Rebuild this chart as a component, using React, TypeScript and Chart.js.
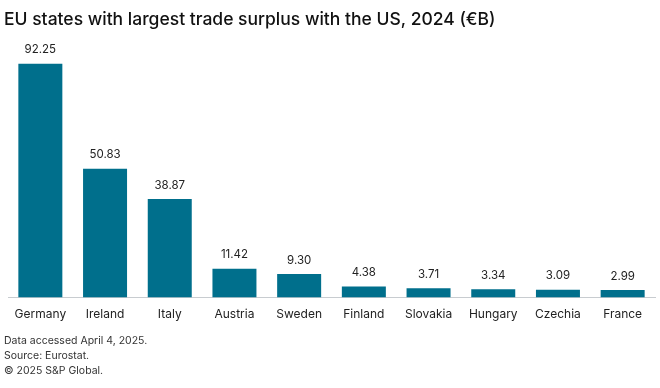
import React, { useEffect, useRef } from "react";
import { Chart, registerables } from "chart.js";

Chart.register(...registerables);

const categories = ["Germany", "Ireland", "Italy", "Austria", "Sweden", "Finland", "Slovakia", "Hungary", "Czechia", "France"];
const surplus = [92.25, 50.83, 38.87, 11.42, 9.3, 4.38, 3.71, 3.34, 3.09, 2.99];
const titleText = "EU states with largest trade surplus with the US, 2024 (€B)";
const footnotes = ["Data accessed April 4, 2025.", "Source: Eurostat.", "© 2025 S&P Global."];

const FONT = "Inter, 'Noto Sans', sans-serif";

const textPlugin = {
  id: "textPlugin",
  afterDraw(chart: any) {
    const ctx = chart.ctx;
    const meta = chart.getDatasetMeta(0);
    ctx.save();
    // value labels
    ctx.font = `400 11.5px ${FONT}`;
    ctx.fillStyle = "#222";
    ctx.textAlign = "center";
    ctx.textBaseline = "bottom";
    meta.data.forEach((bar: any, i: number) => {
      ctx.fillText(surplus[i].toFixed(2), bar.x, bar.y - 8);
    });
    // title
    ctx.textAlign = "left";
    ctx.textBaseline = "middle";
    ctx.font = `500 17.5px ${FONT}`;
    ctx.fillStyle = "#111";
    ctx.fillText(titleText, 4, 20);
    // footnotes
    ctx.font = `400 10.5px ${FONT}`;
    ctx.fillStyle = "#333";
    footnotes.forEach((t, i) => ctx.fillText(t, 4, 341 + i * 14.7));
    ctx.restore();
  },
};

export default function App() {
  const ref = useRef<HTMLCanvasElement>(null);
  useEffect(() => {
    document.body.style.margin = "0";
    const chart = new Chart(ref.current!, {
      type: "bar",
      data: {
        labels: categories,
        datasets: [
          {
            data: surplus,
            backgroundColor: "#006f8c",
            barPercentage: 0.68,
            categoryPercentage: 1,
          },
        ],
      },
      options: {
        animation: false,
        responsive: false,
        maintainAspectRatio: false,
        layout: { padding: { left: 8, right: 5, top: 44, bottom: 64 } },
        plugins: { legend: { display: false }, tooltip: { enabled: false }, title: { display: false } },
        scales: {
          y: { display: false, min: 0, max: 100 },
          x: {
            grid: { display: false },
            border: { display: true, color: "#c8ccd0", width: 1 },
            ticks: { color: "#222", font: { family: FONT, size: 12 }, padding: 2, maxRotation: 0 },
          },
        },
      },
      plugins: [textPlugin],
    });
    return () => chart.destroy();
  }, []);
  return <canvas ref={ref} width={660} height={388} style={{ display: "block" }} />;
}
